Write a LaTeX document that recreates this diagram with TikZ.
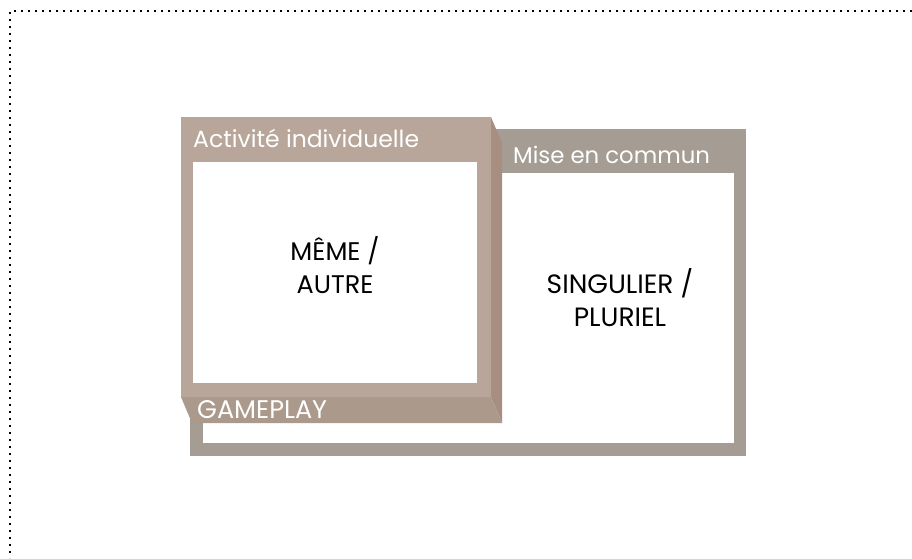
\documentclass[tikz,border=0pt]{standalone}
\usepackage{fontspec}
\setmainfont{Poppins}
\usetikzlibrary{positioning}
\definecolor{frontbrown}{RGB}{184,166,154}
\definecolor{sidebrown}{RGB}{168,141,129}
\definecolor{basebrown}{RGB}{171,153,139}
\definecolor{commungray}{RGB}{165,157,147}

\tikzset{
  headlabel/.style={anchor=base west, inner sep=0pt, text=white,
    font=\fontsize{23.5}{26}\selectfont},
  themelabel/.style={anchor=center, inner sep=0pt, align=center,
    text=black, font=\fontsize{25.5}{33}\selectfont},
}

\begin{document}
\begin{tikzpicture}[x=1pt,y=-1pt]
\useasboundingbox (0,0) rectangle (912,558);
% dotted page frame, open to the right and bottom
\draw[line width=1.6pt, dash pattern=on 1.6pt off 5.4pt]
  (912,11) -- (10,11) -- (10,558);
% Mise en commun: gray frame behind
\fill[commungray] (190,129) rectangle (746,456);
\fill[white] (203,173) rectangle (734,443);
% Activite individuelle: extruded brown box in front
\fill[sidebrown] (491,117) -- (502,143) -- (502,423) -- (491,397) -- cycle;
\fill[basebrown] (181,397) -- (491,397) -- (502,423) -- (192,423) -- cycle;
\fill[frontbrown] (181,117) rectangle (491,397);
\fill[white] (193,162) rectangle (477,383);
% labels
\node[headlabel] (individuel) at (193,147) {Activité individuelle};
\node[headlabel, font=\fontsize{22.8}{26}\selectfont] (commun) at (513,163) {Mise en commun};
\node[headlabel, font=\fontsize{25.5}{26}\selectfont] (gameplay) at (197,418) {GAMEPLAY};
\node[themelabel] (meme) at (335,265) {MÊME /\\AUTRE};
\node[themelabel, font=\fontsize{26.5}{33}\selectfont] (singulier) at (620,298) {SINGULIER /\\PLURIEL};
\end{tikzpicture}
\end{document}
